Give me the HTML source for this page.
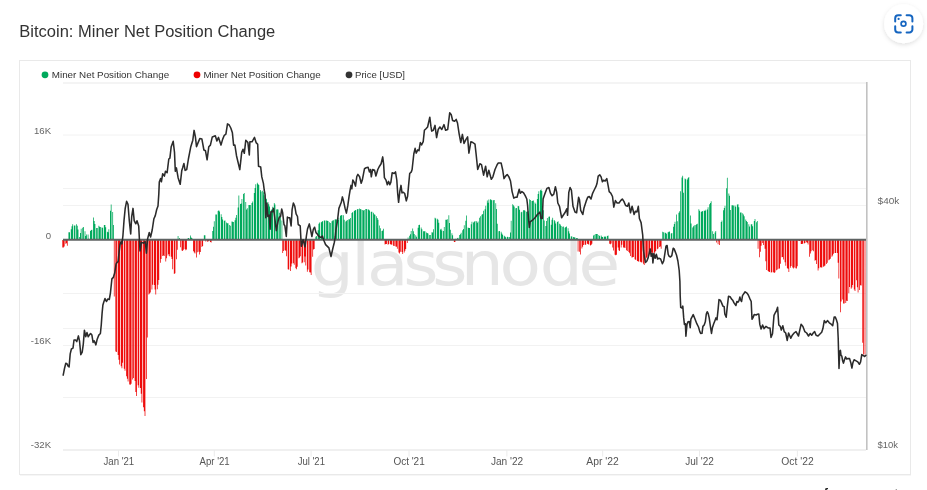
<!DOCTYPE html>
<html><head><meta charset="utf-8"><title>Bitcoin: Miner Net Position Change</title>
<style>html,body{margin:0;padding:0;background:#fff;width:927px;height:490px;overflow:hidden;position:relative}</style>
</head><body>
<svg width="927" height="490" viewBox="0 0 927 490" style="position:absolute;left:0;top:0;will-change:transform"><line x1="20" y1="475.5" x2="911" y2="475.5" stroke="#f6f6f6" stroke-width="1"/><rect x="19.5" y="60.5" width="891" height="414" fill="#fff" stroke="#e9e9e9" stroke-width="1"/><text x="19.3" y="36.7" font-family="Liberation Sans, Arial, sans-serif" font-size="16" fill="#333" textLength="256" lengthAdjust="spacingAndGlyphs">Bitcoin: Miner Net Position Change</text><defs><filter id="sh" x="-50%" y="-50%" width="200%" height="200%"><feDropShadow dx="0" dy="1.5" stdDeviation="2" flood-color="#000" flood-opacity="0.13"/></filter></defs><circle cx="903.6" cy="23.7" r="19.5" fill="#fff" filter="url(#sh)"/><g fill="none" stroke="#1565c0" stroke-width="2" stroke-linecap="round"><path d="M895.2 21.5V18.2a3 3 0 0 1 3-3h2.6"/><path d="M906.6 15.2h2.8a3 3 0 0 1 3 3v3.3"/><path d="M912.4 26.2v3.2a3 3 0 0 1-3 3h-2.8"/><path d="M900.8 32.4h-2.6a3 3 0 0 1-3-3v-3.2"/><circle cx="903.5" cy="23.8" r="2.4" stroke-width="1.7"/></g><circle cx="898.6" cy="18.9" r="1.1" fill="#1565c0"/><circle cx="45" cy="74.8" r="3.4" fill="#00a95c"/><text x="51.8" y="77.9" font-family="Liberation Sans, Arial, sans-serif" font-size="9.8" fill="#333" textLength="117.4" lengthAdjust="spacingAndGlyphs">Miner Net Position Change</text><circle cx="197" cy="74.8" r="3.4" fill="#ee0000"/><text x="203.4" y="77.9" font-family="Liberation Sans, Arial, sans-serif" font-size="9.8" fill="#333" textLength="117.3" lengthAdjust="spacingAndGlyphs">Miner Net Position Change</text><circle cx="349" cy="74.8" r="3.4" fill="#333"/><text x="355" y="77.9" font-family="Liberation Sans, Arial, sans-serif" font-size="9.8" fill="#333" textLength="50" lengthAdjust="spacingAndGlyphs">Price [USD]</text><text x="275.00 310.95 324.82 356.92 382.50 407.83 441.95 477.66 512.02" y="285.3" transform="scale(1.13,1)" font-family="DejaVu Sans, Liberation Sans, sans-serif" font-size="60" fill="#e6e6e6">glassnode</text><line x1="63" y1="83" x2="866" y2="83" stroke="#f4f4f4" stroke-width="2"/><line x1="63" y1="135" x2="866" y2="135" stroke="#f2f2f2" stroke-width="1"/><line x1="63" y1="188.5" x2="866" y2="188.5" stroke="#f2f2f2" stroke-width="1"/><line x1="63" y1="205.5" x2="866" y2="205.5" stroke="#f2f2f2" stroke-width="1"/><line x1="63" y1="293.5" x2="866" y2="293.5" stroke="#f2f2f2" stroke-width="1"/><line x1="63" y1="328.5" x2="866" y2="328.5" stroke="#f2f2f2" stroke-width="1"/><line x1="63" y1="345.5" x2="866" y2="345.5" stroke="#f2f2f2" stroke-width="1"/><line x1="63" y1="397.5" x2="866" y2="397.5" stroke="#f2f2f2" stroke-width="1"/><line x1="63" y1="450" x2="866" y2="450" stroke="#f0f0f0" stroke-width="1.8"/><line x1="118.5" y1="450" x2="118.5" y2="456.5" stroke="#ececec" stroke-width="1"/><text x="103.5" y="464.9" font-family="Liberation Sans, Arial, sans-serif" font-size="10" fill="#555" textLength="30.7" lengthAdjust="spacingAndGlyphs">Jan &#39;21</text><line x1="214.3" y1="450" x2="214.3" y2="456.5" stroke="#ececec" stroke-width="1"/><text x="199.5" y="464.9" font-family="Liberation Sans, Arial, sans-serif" font-size="10" fill="#555" textLength="30.2" lengthAdjust="spacingAndGlyphs">Apr &#39;21</text><line x1="311.1" y1="450" x2="311.1" y2="456.5" stroke="#ececec" stroke-width="1"/><text x="297.7" y="464.9" font-family="Liberation Sans, Arial, sans-serif" font-size="10" fill="#555" textLength="27.3" lengthAdjust="spacingAndGlyphs">Jul &#39;21</text><line x1="409.0" y1="450" x2="409.0" y2="456.5" stroke="#ececec" stroke-width="1"/><text x="393.4" y="464.9" font-family="Liberation Sans, Arial, sans-serif" font-size="10" fill="#555" textLength="31.3" lengthAdjust="spacingAndGlyphs">Oct &#39;21</text><line x1="506.9" y1="450" x2="506.9" y2="456.5" stroke="#ececec" stroke-width="1"/><text x="490.9" y="464.9" font-family="Liberation Sans, Arial, sans-serif" font-size="10" fill="#555" textLength="32.3" lengthAdjust="spacingAndGlyphs">Jan &#39;22</text><line x1="602.7" y1="450" x2="602.7" y2="456.5" stroke="#ececec" stroke-width="1"/><text x="586.3" y="464.9" font-family="Liberation Sans, Arial, sans-serif" font-size="10" fill="#555" textLength="32.4" lengthAdjust="spacingAndGlyphs">Apr &#39;22</text><line x1="699.5" y1="450" x2="699.5" y2="456.5" stroke="#ececec" stroke-width="1"/><text x="685.3" y="464.9" font-family="Liberation Sans, Arial, sans-serif" font-size="10" fill="#555" textLength="28.6" lengthAdjust="spacingAndGlyphs">Jul &#39;22</text><line x1="797.4" y1="450" x2="797.4" y2="456.5" stroke="#ececec" stroke-width="1"/><text x="781.3" y="464.9" font-family="Liberation Sans, Arial, sans-serif" font-size="10" fill="#555" textLength="32.4" lengthAdjust="spacingAndGlyphs">Oct &#39;22</text><text x="51.1" y="133.7" font-family="Liberation Sans, Arial, sans-serif" font-size="9.6" fill="#666" text-anchor="end">16K</text><text x="51.1" y="238.7" font-family="Liberation Sans, Arial, sans-serif" font-size="9.6" fill="#666" text-anchor="end">0</text><text x="51.1" y="344.2" font-family="Liberation Sans, Arial, sans-serif" font-size="9.6" fill="#666" text-anchor="end">-16K</text><text x="51.1" y="448.2" font-family="Liberation Sans, Arial, sans-serif" font-size="9.6" fill="#666" text-anchor="end">-32K</text><text x="877.6" y="204.0" font-family="Liberation Sans, Arial, sans-serif" font-size="9.6" fill="#666" textLength="21.6" lengthAdjust="spacingAndGlyphs">$40k</text><text x="877.6" y="448.2" font-family="Liberation Sans, Arial, sans-serif" font-size="9.6" fill="#666" textLength="20.5" lengthAdjust="spacingAndGlyphs">$10k</text><path d="M68.46 232.30h0.7692v7.70h-0.7692zM69.23 232.30h0.7692v7.70h-0.7692zM70.77 229.32h0.7692v10.68h-0.7692zM71.54 226.28h0.7692v13.72h-0.7692zM72.31 224.29h0.7692v15.71h-0.7692zM73.85 225.50h0.7692v14.50h-0.7692zM74.62 225.50h0.7692v14.50h-0.7692zM76.15 224.24h0.7692v15.76h-0.7692zM76.92 225.74h0.7692v14.26h-0.7692zM77.69 229.38h0.7692v10.62h-0.7692zM79.23 236.92h0.7692v3.08h-0.7692zM80.00 233.08h0.7692v6.92h-0.7692zM80.77 228.68h0.7692v11.32h-0.7692zM82.31 227.81h0.7692v12.19h-0.7692zM83.08 227.04h0.7692v12.96h-0.7692zM84.62 231.30h0.7692v8.70h-0.7692zM85.38 236.04h0.7692v3.96h-0.7692zM86.15 234.43h0.7692v5.57h-0.7692zM87.69 234.40h0.7692v5.60h-0.7692zM88.46 238.77h0.7692v1.23h-0.7692zM90.00 231.08h0.7692v8.92h-0.7692zM90.77 230.00h0.7692v10.00h-0.7692zM91.54 229.87h0.7692v10.13h-0.7692zM93.08 217.58h0.7692v22.42h-0.7692zM93.85 221.10h0.7692v18.90h-0.7692zM94.62 223.91h0.7692v16.09h-0.7692zM96.15 228.00h0.7692v12.00h-0.7692zM96.92 228.00h0.7692v12.00h-0.7692zM98.46 225.86h0.7692v14.14h-0.7692zM99.23 226.83h0.7692v13.17h-0.7692zM100.00 227.04h0.7692v12.96h-0.7692zM101.54 227.55h0.7692v12.45h-0.7692zM102.31 227.82h0.7692v12.18h-0.7692zM103.85 224.89h0.7692v15.11h-0.7692zM104.62 224.93h0.7692v15.07h-0.7692zM105.38 227.29h0.7692v12.71h-0.7692zM106.92 231.74h0.7692v8.26h-0.7692zM107.69 232.30h0.7692v7.70h-0.7692zM108.46 229.22h0.7692v10.78h-0.7692zM110.00 210.73h0.7692v29.27h-0.7692zM110.77 204.62h0.7692v35.38h-0.7692zM112.31 211.95h0.7692v28.05h-0.7692zM113.08 225.00h0.7692v15.00h-0.7692zM177.69 236.00h0.7692v4.00h-0.7692zM179.23 238.00h0.7692v2.00h-0.7692zM187.69 238.00h0.7692v2.00h-0.7692zM188.46 237.92h0.7692v2.08h-0.7692zM190.00 235.53h0.7692v4.47h-0.7692zM190.77 237.61h0.7692v2.39h-0.7692zM191.54 238.00h0.7692v2.00h-0.7692zM203.85 235.30h0.7692v4.70h-0.7692zM204.62 235.30h0.7692v4.70h-0.7692zM212.31 231.09h0.7692v8.91h-0.7692zM213.08 226.74h0.7692v13.26h-0.7692zM213.85 221.28h0.7692v18.72h-0.7692zM215.38 214.40h0.7692v25.60h-0.7692zM216.15 214.40h0.7692v25.60h-0.7692zM217.69 210.93h0.7692v29.07h-0.7692zM218.46 210.15h0.7692v29.85h-0.7692zM219.23 211.55h0.7692v28.45h-0.7692zM220.77 214.15h0.7692v25.85h-0.7692zM221.54 217.12h0.7692v22.88h-0.7692zM222.31 219.45h0.7692v20.55h-0.7692zM223.85 220.79h0.7692v19.21h-0.7692zM224.62 220.53h0.7692v19.47h-0.7692zM226.15 222.61h0.7692v17.39h-0.7692zM226.92 223.20h0.7692v16.80h-0.7692zM227.69 223.29h0.7692v16.71h-0.7692zM229.23 225.02h0.7692v14.98h-0.7692zM230.00 225.78h0.7692v14.22h-0.7692zM231.54 221.43h0.7692v18.57h-0.7692zM232.31 221.84h0.7692v18.16h-0.7692zM233.08 221.90h0.7692v18.10h-0.7692zM234.62 220.16h0.7692v19.84h-0.7692zM235.38 217.76h0.7692v22.24h-0.7692zM236.15 215.00h0.7692v25.00h-0.7692zM237.69 207.50h0.7692v32.50h-0.7692zM238.46 195.61h0.7692v44.39h-0.7692zM240.00 204.10h0.7692v35.90h-0.7692zM240.77 203.58h0.7692v36.42h-0.7692zM241.54 199.07h0.7692v40.93h-0.7692zM243.08 194.04h0.7692v45.96h-0.7692zM243.85 192.99h0.7692v47.01h-0.7692zM245.38 201.96h0.7692v38.04h-0.7692zM246.15 209.47h0.7692v30.53h-0.7692zM246.92 208.19h0.7692v31.81h-0.7692zM248.46 205.11h0.7692v34.89h-0.7692zM249.23 205.00h0.7692v35.00h-0.7692zM250.00 204.91h0.7692v35.09h-0.7692zM251.54 203.00h0.7692v37.00h-0.7692zM252.31 201.57h0.7692v38.43h-0.7692zM253.85 193.00h0.7692v47.00h-0.7692zM254.62 188.00h0.7692v52.00h-0.7692zM255.38 184.17h0.7692v55.83h-0.7692zM256.92 182.71h0.7692v57.29h-0.7692zM257.69 184.10h0.7692v55.90h-0.7692zM258.46 185.08h0.7692v54.92h-0.7692zM260.00 190.07h0.7692v49.93h-0.7692zM260.77 191.45h0.7692v48.55h-0.7692zM262.31 190.76h0.7692v49.24h-0.7692zM263.08 192.25h0.7692v47.75h-0.7692zM263.85 195.35h0.7692v44.65h-0.7692zM265.38 199.60h0.7692v40.40h-0.7692zM266.15 198.79h0.7692v41.21h-0.7692zM267.69 202.21h0.7692v37.79h-0.7692zM268.46 204.13h0.7692v35.87h-0.7692zM269.23 206.50h0.7692v33.50h-0.7692zM270.77 209.70h0.7692v30.30h-0.7692zM271.54 209.61h0.7692v30.39h-0.7692zM272.31 206.77h0.7692v33.23h-0.7692zM273.85 202.99h0.7692v37.01h-0.7692zM274.62 204.58h0.7692v35.42h-0.7692zM276.15 209.49h0.7692v30.51h-0.7692zM276.92 209.25h0.7692v30.75h-0.7692zM277.69 209.41h0.7692v30.59h-0.7692zM279.23 212.75h0.7692v27.25h-0.7692zM280.00 215.68h0.7692v24.32h-0.7692zM281.54 220.50h0.7692v19.50h-0.7692zM315.38 236.73h0.7692v3.27h-0.7692zM316.15 235.96h0.7692v4.04h-0.7692zM317.69 230.19h0.7692v9.81h-0.7692zM318.46 223.78h0.7692v16.22h-0.7692zM319.23 222.50h0.7692v17.50h-0.7692zM320.77 222.36h0.7692v17.64h-0.7692zM321.54 221.64h0.7692v18.36h-0.7692zM322.31 221.10h0.7692v18.90h-0.7692zM323.85 220.56h0.7692v19.44h-0.7692zM324.62 220.50h0.7692v19.50h-0.7692zM326.15 220.51h0.7692v19.49h-0.7692zM326.92 220.78h0.7692v19.22h-0.7692zM327.69 221.05h0.7692v18.95h-0.7692zM329.23 222.32h0.7692v17.68h-0.7692zM330.00 223.08h0.7692v16.92h-0.7692zM331.54 221.28h0.7692v18.72h-0.7692zM332.31 220.44h0.7692v19.56h-0.7692zM333.08 220.18h0.7692v19.82h-0.7692zM334.62 219.62h0.7692v20.38h-0.7692zM335.38 219.26h0.7692v20.74h-0.7692zM336.15 219.61h0.7692v20.39h-0.7692zM337.69 219.99h0.7692v20.01h-0.7692zM338.46 217.80h0.7692v22.20h-0.7692zM340.00 215.74h0.7692v24.26h-0.7692zM340.77 215.20h0.7692v24.80h-0.7692zM341.54 214.88h0.7692v25.12h-0.7692zM343.08 215.33h0.7692v24.67h-0.7692zM343.85 219.79h0.7692v20.21h-0.7692zM345.38 221.43h0.7692v18.57h-0.7692zM346.15 220.66h0.7692v19.34h-0.7692zM346.92 219.89h0.7692v20.11h-0.7692zM348.46 219.20h0.7692v20.80h-0.7692zM349.23 219.20h0.7692v20.80h-0.7692zM350.00 217.95h0.7692v22.05h-0.7692zM351.54 212.97h0.7692v27.03h-0.7692zM352.31 212.08h0.7692v27.92h-0.7692zM353.85 210.93h0.7692v29.07h-0.7692zM354.62 210.31h0.7692v29.69h-0.7692zM355.38 209.98h0.7692v30.02h-0.7692zM356.92 209.35h0.7692v30.65h-0.7692zM357.69 209.05h0.7692v30.95h-0.7692zM359.23 208.47h0.7692v31.53h-0.7692zM360.00 208.97h0.7692v31.03h-0.7692zM360.77 209.47h0.7692v30.53h-0.7692zM362.31 210.12h0.7692v29.88h-0.7692zM363.08 210.39h0.7692v29.61h-0.7692zM363.85 209.91h0.7692v30.09h-0.7692zM365.38 209.00h0.7692v31.00h-0.7692zM366.15 209.00h0.7692v31.00h-0.7692zM367.69 209.33h0.7692v30.67h-0.7692zM368.46 209.87h0.7692v30.13h-0.7692zM369.23 210.41h0.7692v29.59h-0.7692zM370.77 211.70h0.7692v28.30h-0.7692zM371.54 211.70h0.7692v28.30h-0.7692zM373.08 212.66h0.7692v27.34h-0.7692zM373.85 214.26h0.7692v25.74h-0.7692zM374.62 214.87h0.7692v25.13h-0.7692zM376.15 216.13h0.7692v23.87h-0.7692zM376.92 217.93h0.7692v22.07h-0.7692zM377.69 219.74h0.7692v20.26h-0.7692zM379.23 225.55h0.7692v14.45h-0.7692zM380.00 228.20h0.7692v11.80h-0.7692zM381.54 231.04h0.7692v8.96h-0.7692zM382.31 230.59h0.7692v9.41h-0.7692zM383.08 228.72h0.7692v11.28h-0.7692zM407.69 237.40h0.7692v2.60h-0.7692zM409.23 235.86h0.7692v4.14h-0.7692zM410.00 234.33h0.7692v5.67h-0.7692zM410.77 230.98h0.7692v9.02h-0.7692zM412.31 228.60h0.7692v11.40h-0.7692zM413.08 231.35h0.7692v8.65h-0.7692zM413.85 234.07h0.7692v5.93h-0.7692zM415.38 235.26h0.7692v4.74h-0.7692zM416.15 236.86h0.7692v3.14h-0.7692zM417.69 227.66h0.7692v12.34h-0.7692zM418.46 224.92h0.7692v15.08h-0.7692zM419.23 224.69h0.7692v15.31h-0.7692zM420.77 227.43h0.7692v12.57h-0.7692zM421.54 229.25h0.7692v10.75h-0.7692zM423.08 231.26h0.7692v8.74h-0.7692zM423.85 231.30h0.7692v8.70h-0.7692zM424.62 231.30h0.7692v8.70h-0.7692zM426.15 232.62h0.7692v7.38h-0.7692zM426.92 233.00h0.7692v7.00h-0.7692zM427.69 233.55h0.7692v6.45h-0.7692zM429.23 235.01h0.7692v4.99h-0.7692zM430.00 235.09h0.7692v4.91h-0.7692zM431.54 232.14h0.7692v7.86h-0.7692zM432.31 232.47h0.7692v7.53h-0.7692zM433.08 229.18h0.7692v10.82h-0.7692zM434.62 217.80h0.7692v22.20h-0.7692zM435.38 218.57h0.7692v21.43h-0.7692zM436.92 218.71h0.7692v21.29h-0.7692zM437.69 219.63h0.7692v20.37h-0.7692zM438.46 222.73h0.7692v17.27h-0.7692zM440.00 229.52h0.7692v10.48h-0.7692zM440.77 228.75h0.7692v11.25h-0.7692zM441.54 230.53h0.7692v9.47h-0.7692zM443.08 230.94h0.7692v9.06h-0.7692zM443.85 227.02h0.7692v12.98h-0.7692zM445.38 219.80h0.7692v20.20h-0.7692zM446.15 219.78h0.7692v20.22h-0.7692zM446.92 219.32h0.7692v20.68h-0.7692zM448.46 215.26h0.7692v24.74h-0.7692zM449.23 222.91h0.7692v17.09h-0.7692zM450.00 229.73h0.7692v10.27h-0.7692zM451.54 233.35h0.7692v6.65h-0.7692zM452.31 235.28h0.7692v4.72h-0.7692zM455.38 238.70h0.7692v1.30h-0.7692zM456.92 238.32h0.7692v1.68h-0.7692zM457.69 237.66h0.7692v2.34h-0.7692zM459.23 234.98h0.7692v5.02h-0.7692zM460.00 234.22h0.7692v5.78h-0.7692zM460.77 232.65h0.7692v7.35h-0.7692zM462.31 230.23h0.7692v9.77h-0.7692zM463.08 229.11h0.7692v10.89h-0.7692zM463.85 225.33h0.7692v14.67h-0.7692zM465.38 220.63h0.7692v19.37h-0.7692zM466.15 215.61h0.7692v24.39h-0.7692zM467.69 227.56h0.7692v12.44h-0.7692zM468.46 227.90h0.7692v12.10h-0.7692zM469.23 227.90h0.7692v12.10h-0.7692zM470.77 224.37h0.7692v15.63h-0.7692zM471.54 221.79h0.7692v18.21h-0.7692zM473.08 222.44h0.7692v17.56h-0.7692zM473.85 221.73h0.7692v18.27h-0.7692zM474.62 221.09h0.7692v18.91h-0.7692zM476.15 221.35h0.7692v18.65h-0.7692zM476.92 222.83h0.7692v17.17h-0.7692zM477.69 221.42h0.7692v18.58h-0.7692zM479.23 217.63h0.7692v22.37h-0.7692zM480.00 216.30h0.7692v23.70h-0.7692zM481.54 214.71h0.7692v25.29h-0.7692zM482.31 213.99h0.7692v26.01h-0.7692zM483.08 210.69h0.7692v29.31h-0.7692zM484.62 209.24h0.7692v30.76h-0.7692zM485.38 205.85h0.7692v34.15h-0.7692zM486.92 200.44h0.7692v39.56h-0.7692zM487.69 202.68h0.7692v37.32h-0.7692zM488.46 199.49h0.7692v40.51h-0.7692zM490.00 199.15h0.7692v40.85h-0.7692zM490.77 199.84h0.7692v40.16h-0.7692zM491.54 200.26h0.7692v39.74h-0.7692zM493.08 200.27h0.7692v39.73h-0.7692zM493.85 199.94h0.7692v40.06h-0.7692zM495.38 203.28h0.7692v36.72h-0.7692zM496.15 208.96h0.7692v31.04h-0.7692zM496.92 223.76h0.7692v16.24h-0.7692zM498.46 231.30h0.7692v8.70h-0.7692zM499.23 231.07h0.7692v8.93h-0.7692zM500.77 231.69h0.7692v8.31h-0.7692zM501.54 233.55h0.7692v6.45h-0.7692zM502.31 234.83h0.7692v5.17h-0.7692zM503.85 235.75h0.7692v4.25h-0.7692zM504.62 236.56h0.7692v3.44h-0.7692zM505.38 237.37h0.7692v2.63h-0.7692zM506.92 236.74h0.7692v3.26h-0.7692zM507.69 236.96h0.7692v3.04h-0.7692zM509.23 237.08h0.7692v2.92h-0.7692zM510.00 232.42h0.7692v7.58h-0.7692zM510.77 220.84h0.7692v19.16h-0.7692zM512.31 204.21h0.7692v35.79h-0.7692zM513.08 205.37h0.7692v34.63h-0.7692zM513.85 206.47h0.7692v33.53h-0.7692zM515.38 208.26h0.7692v31.74h-0.7692zM516.15 208.06h0.7692v31.94h-0.7692zM517.69 206.01h0.7692v33.99h-0.7692zM518.46 206.18h0.7692v33.82h-0.7692zM519.23 209.86h0.7692v30.14h-0.7692zM520.77 212.32h0.7692v27.68h-0.7692zM521.54 211.78h0.7692v28.22h-0.7692zM523.08 210.24h0.7692v29.76h-0.7692zM523.85 209.95h0.7692v30.05h-0.7692zM524.62 210.78h0.7692v29.22h-0.7692zM526.15 211.63h0.7692v28.37h-0.7692zM526.92 211.70h0.7692v28.30h-0.7692zM527.69 211.00h0.7692v29.00h-0.7692zM529.23 199.13h0.7692v40.87h-0.7692zM530.00 199.96h0.7692v40.04h-0.7692zM531.54 200.91h0.7692v39.09h-0.7692zM532.31 200.68h0.7692v39.32h-0.7692zM533.08 200.39h0.7692v39.61h-0.7692zM534.62 202.61h0.7692v37.39h-0.7692zM535.38 203.79h0.7692v36.21h-0.7692zM536.92 199.04h0.7692v40.96h-0.7692zM537.69 193.91h0.7692v46.09h-0.7692zM538.46 191.28h0.7692v48.72h-0.7692zM540.00 190.22h0.7692v49.78h-0.7692zM540.77 189.60h0.7692v50.40h-0.7692zM541.54 191.09h0.7692v48.91h-0.7692zM543.08 210.17h0.7692v29.83h-0.7692zM543.85 220.62h0.7692v19.38h-0.7692zM545.38 226.08h0.7692v13.92h-0.7692zM546.15 220.92h0.7692v19.08h-0.7692zM546.92 218.09h0.7692v21.91h-0.7692zM548.46 216.85h0.7692v23.15h-0.7692zM549.23 216.60h0.7692v23.40h-0.7692zM550.77 224.86h0.7692v15.14h-0.7692zM551.54 219.65h0.7692v20.35h-0.7692zM552.31 217.69h0.7692v22.31h-0.7692zM553.85 220.02h0.7692v19.98h-0.7692zM554.62 221.20h0.7692v18.80h-0.7692zM555.38 223.40h0.7692v16.60h-0.7692zM556.92 221.92h0.7692v18.08h-0.7692zM557.69 221.28h0.7692v18.72h-0.7692zM559.23 223.77h0.7692v16.23h-0.7692zM560.00 224.49h0.7692v15.51h-0.7692zM560.77 226.07h0.7692v13.93h-0.7692zM562.31 226.87h0.7692v13.13h-0.7692zM563.08 226.61h0.7692v13.39h-0.7692zM564.62 227.71h0.7692v12.29h-0.7692zM565.38 227.00h0.7692v13.00h-0.7692zM566.15 226.42h0.7692v13.58h-0.7692zM567.69 228.17h0.7692v11.83h-0.7692zM568.46 231.21h0.7692v8.79h-0.7692zM569.23 233.48h0.7692v6.52h-0.7692zM570.77 236.15h0.7692v3.85h-0.7692zM571.54 236.46h0.7692v3.54h-0.7692zM573.08 237.02h0.7692v2.98h-0.7692zM573.85 237.28h0.7692v2.72h-0.7692zM574.62 237.52h0.7692v2.48h-0.7692zM576.15 237.98h0.7692v2.02h-0.7692zM576.92 238.00h0.7692v2.00h-0.7692zM593.08 235.40h0.7692v4.60h-0.7692zM593.85 234.66h0.7692v5.34h-0.7692zM595.38 234.00h0.7692v6.00h-0.7692zM596.15 234.00h0.7692v6.00h-0.7692zM596.92 234.00h0.7692v6.00h-0.7692zM598.46 234.99h0.7692v5.01h-0.7692zM599.23 235.95h0.7692v4.05h-0.7692zM600.77 235.61h0.7692v4.39h-0.7692zM601.54 236.63h0.7692v3.37h-0.7692zM602.31 237.00h0.7692v3.00h-0.7692zM603.85 236.50h0.7692v3.50h-0.7692zM604.62 236.78h0.7692v3.22h-0.7692zM605.38 236.41h0.7692v3.59h-0.7692zM606.92 235.90h0.7692v4.10h-0.7692zM607.69 235.62h0.7692v4.38h-0.7692zM662.31 231.70h0.7692v8.30h-0.7692zM663.08 232.24h0.7692v7.76h-0.7692zM664.62 232.60h0.7692v7.40h-0.7692zM665.38 232.99h0.7692v7.01h-0.7692zM666.15 233.84h0.7692v6.16h-0.7692zM667.69 232.13h0.7692v7.87h-0.7692zM668.46 231.77h0.7692v8.23h-0.7692zM669.23 231.39h0.7692v8.61h-0.7692zM670.77 233.47h0.7692v6.53h-0.7692zM671.54 232.91h0.7692v7.09h-0.7692zM673.08 226.81h0.7692v13.19h-0.7692zM673.85 223.92h0.7692v16.08h-0.7692zM674.62 221.66h0.7692v18.34h-0.7692zM676.15 214.46h0.7692v25.54h-0.7692zM676.92 221.34h0.7692v18.66h-0.7692zM678.46 212.66h0.7692v27.34h-0.7692zM679.23 211.13h0.7692v28.87h-0.7692zM680.00 191.32h0.7692v48.68h-0.7692zM681.54 177.54h0.7692v62.46h-0.7692zM682.31 175.73h0.7692v64.27h-0.7692zM683.08 192.65h0.7692v47.35h-0.7692zM684.62 178.40h0.7692v61.60h-0.7692zM685.38 179.17h0.7692v60.83h-0.7692zM686.92 179.49h0.7692v60.51h-0.7692zM687.69 178.08h0.7692v61.92h-0.7692zM688.46 177.06h0.7692v62.94h-0.7692zM690.00 215.61h0.7692v24.39h-0.7692zM690.77 223.48h0.7692v16.52h-0.7692zM692.31 227.62h0.7692v12.38h-0.7692zM693.08 226.37h0.7692v13.63h-0.7692zM693.85 225.31h0.7692v14.69h-0.7692zM695.38 224.98h0.7692v15.02h-0.7692zM696.15 224.22h0.7692v15.78h-0.7692zM696.92 223.77h0.7692v16.23h-0.7692zM698.46 209.35h0.7692v30.65h-0.7692zM699.23 210.76h0.7692v29.24h-0.7692zM700.77 211.82h0.7692v28.18h-0.7692zM701.54 211.54h0.7692v28.46h-0.7692zM702.31 211.10h0.7692v28.90h-0.7692zM703.85 210.42h0.7692v29.58h-0.7692zM704.62 210.96h0.7692v29.04h-0.7692zM705.38 209.72h0.7692v30.28h-0.7692zM706.92 209.56h0.7692v30.44h-0.7692zM707.69 207.22h0.7692v32.78h-0.7692zM709.23 204.28h0.7692v35.72h-0.7692zM710.00 203.10h0.7692v36.90h-0.7692zM710.77 201.20h0.7692v38.80h-0.7692zM712.31 231.33h0.7692v8.67h-0.7692zM713.08 234.12h0.7692v5.88h-0.7692zM714.62 232.58h0.7692v7.42h-0.7692zM715.38 231.00h0.7692v9.00h-0.7692zM720.77 222.00h0.7692v18.00h-0.7692zM721.54 220.45h0.7692v19.55h-0.7692zM723.08 210.18h0.7692v29.82h-0.7692zM723.85 207.91h0.7692v32.09h-0.7692zM724.62 205.70h0.7692v34.30h-0.7692zM726.15 188.25h0.7692v51.75h-0.7692zM726.92 177.75h0.7692v62.25h-0.7692zM728.46 193.50h0.7692v46.50h-0.7692zM729.23 195.66h0.7692v44.34h-0.7692zM730.00 210.07h0.7692v29.93h-0.7692zM731.54 205.30h0.7692v34.70h-0.7692zM732.31 205.30h0.7692v34.70h-0.7692zM733.08 205.61h0.7692v34.39h-0.7692zM734.62 205.59h0.7692v34.41h-0.7692zM735.38 206.67h0.7692v33.33h-0.7692zM736.92 204.45h0.7692v35.55h-0.7692zM737.69 204.21h0.7692v35.79h-0.7692zM738.46 207.27h0.7692v32.73h-0.7692zM740.00 212.60h0.7692v27.40h-0.7692zM740.77 212.60h0.7692v27.40h-0.7692zM742.31 213.23h0.7692v26.77h-0.7692zM743.08 214.62h0.7692v25.38h-0.7692zM743.85 216.21h0.7692v23.79h-0.7692zM745.38 219.41h0.7692v20.59h-0.7692zM746.15 220.89h0.7692v19.11h-0.7692zM746.92 221.91h0.7692v18.09h-0.7692zM748.46 224.34h0.7692v15.66h-0.7692zM749.23 226.38h0.7692v13.62h-0.7692zM750.77 224.37h0.7692v15.63h-0.7692zM751.54 224.30h0.7692v15.70h-0.7692zM752.31 226.15h0.7692v13.85h-0.7692zM753.85 221.12h0.7692v18.88h-0.7692zM754.62 219.09h0.7692v20.91h-0.7692zM756.15 222.21h0.7692v17.79h-0.7692zM756.92 221.00h0.7692v19.00h-0.7692z" fill="#00a95c"/><path d="M62.31 240.00h0.7692v7.50h-0.7692zM63.08 240.00h0.7692v7.50h-0.7692zM63.85 240.00h0.7692v6.40h-0.7692zM65.38 240.00h0.7692v3.73h-0.7692zM66.15 240.00h0.7692v3.13h-0.7692zM66.92 240.00h0.7692v5.83h-0.7692zM113.85 240.00h0.7692v56.50h-0.7692zM115.38 240.00h0.7692v111.53h-0.7692zM116.15 240.00h0.7692v111.88h-0.7692zM117.69 240.00h0.7692v114.91h-0.7692zM118.46 240.00h0.7692v119.70h-0.7692zM119.23 240.00h0.7692v124.45h-0.7692zM120.77 240.00h0.7692v126.26h-0.7692zM121.54 240.00h0.7692v128.21h-0.7692zM122.31 240.00h0.7692v122.75h-0.7692zM123.85 240.00h0.7692v128.82h-0.7692zM124.62 240.00h0.7692v130.74h-0.7692zM126.15 240.00h0.7692v136.16h-0.7692zM126.92 240.00h0.7692v138.63h-0.7692zM127.69 240.00h0.7692v141.44h-0.7692zM129.23 240.00h0.7692v144.57h-0.7692zM130.00 240.00h0.7692v144.87h-0.7692zM130.77 240.00h0.7692v143.72h-0.7692zM132.31 240.00h0.7692v139.50h-0.7692zM133.08 240.00h0.7692v137.91h-0.7692zM134.62 240.00h0.7692v140.95h-0.7692zM135.38 240.00h0.7692v152.12h-0.7692zM136.15 240.00h0.7692v156.05h-0.7692zM137.69 240.00h0.7692v145.17h-0.7692zM138.46 240.00h0.7692v147.78h-0.7692zM140.00 240.00h0.7692v148.10h-0.7692zM140.77 240.00h0.7692v153.67h-0.7692zM141.54 240.00h0.7692v162.57h-0.7692zM143.08 240.00h0.7692v167.19h-0.7692zM143.85 240.00h0.7692v171.21h-0.7692zM144.62 240.00h0.7692v175.98h-0.7692zM146.15 240.00h0.7692v139.09h-0.7692zM146.92 240.00h0.7692v97.49h-0.7692zM148.46 240.00h0.7692v54.61h-0.7692zM149.23 240.00h0.7692v53.45h-0.7692zM150.00 240.00h0.7692v52.62h-0.7692zM151.54 240.00h0.7692v49.44h-0.7692zM152.31 240.00h0.7692v44.76h-0.7692zM153.85 240.00h0.7692v44.90h-0.7692zM154.62 240.00h0.7692v49.57h-0.7692zM155.38 240.00h0.7692v54.54h-0.7692zM156.92 240.00h0.7692v49.37h-0.7692zM157.69 240.00h0.7692v44.77h-0.7692zM158.46 240.00h0.7692v40.01h-0.7692zM160.00 240.00h0.7692v22.70h-0.7692zM160.77 240.00h0.7692v19.05h-0.7692zM162.31 240.00h0.7692v15.92h-0.7692zM163.08 240.00h0.7692v15.53h-0.7692zM163.85 240.00h0.7692v16.06h-0.7692zM165.38 240.00h0.7692v21.50h-0.7692zM166.15 240.00h0.7692v18.36h-0.7692zM167.69 240.00h0.7692v15.55h-0.7692zM168.46 240.00h0.7692v14.01h-0.7692zM169.23 240.00h0.7692v16.16h-0.7692zM170.77 240.00h0.7692v16.74h-0.7692zM171.54 240.00h0.7692v18.98h-0.7692zM172.31 240.00h0.7692v29.17h-0.7692zM173.85 240.00h0.7692v34.07h-0.7692zM174.62 240.00h0.7692v33.30h-0.7692zM176.15 240.00h0.7692v19.13h-0.7692zM176.92 240.00h0.7692v9.80h-0.7692zM180.00 240.00h0.7692v7.30h-0.7692zM181.54 240.00h0.7692v10.61h-0.7692zM182.31 240.00h0.7692v10.92h-0.7692zM183.08 240.00h0.7692v9.85h-0.7692zM184.62 240.00h0.7692v9.05h-0.7692zM185.38 240.00h0.7692v10.20h-0.7692zM186.15 240.00h0.7692v9.44h-0.7692zM193.08 240.00h0.7692v11.19h-0.7692zM193.85 240.00h0.7692v12.56h-0.7692zM194.62 240.00h0.7692v13.39h-0.7692zM196.15 240.00h0.7692v17.44h-0.7692zM196.92 240.00h0.7692v12.29h-0.7692zM198.46 240.00h0.7692v11.64h-0.7692zM199.23 240.00h0.7692v14.40h-0.7692zM200.00 240.00h0.7692v12.12h-0.7692zM201.54 240.00h0.7692v6.95h-0.7692zM202.31 240.00h0.7692v6.10h-0.7692zM205.38 240.00h0.7692v1.40h-0.7692zM206.92 240.00h0.7692v1.68h-0.7692zM207.69 240.00h0.7692v1.24h-0.7692zM208.46 240.00h0.7692v1.19h-0.7692zM210.00 240.00h0.7692v2.01h-0.7692zM210.77 240.00h0.7692v2.42h-0.7692zM282.31 240.00h0.7692v13.12h-0.7692zM283.08 240.00h0.7692v11.12h-0.7692zM284.62 240.00h0.7692v10.37h-0.7692zM285.38 240.00h0.7692v10.72h-0.7692zM286.15 240.00h0.7692v16.14h-0.7692zM287.69 240.00h0.7692v29.31h-0.7692zM288.46 240.00h0.7692v29.78h-0.7692zM290.00 240.00h0.7692v30.98h-0.7692zM290.77 240.00h0.7692v26.61h-0.7692zM291.54 240.00h0.7692v23.42h-0.7692zM293.08 240.00h0.7692v23.32h-0.7692zM293.85 240.00h0.7692v24.81h-0.7692zM295.38 240.00h0.7692v28.14h-0.7692zM296.15 240.00h0.7692v29.21h-0.7692zM296.92 240.00h0.7692v26.71h-0.7692zM298.46 240.00h0.7692v18.22h-0.7692zM299.23 240.00h0.7692v17.57h-0.7692zM300.00 240.00h0.7692v16.21h-0.7692zM301.54 240.00h0.7692v23.15h-0.7692zM302.31 240.00h0.7692v22.55h-0.7692zM303.85 240.00h0.7692v22.24h-0.7692zM304.62 240.00h0.7692v16.60h-0.7692zM305.38 240.00h0.7692v25.39h-0.7692zM306.92 240.00h0.7692v31.69h-0.7692zM307.69 240.00h0.7692v29.49h-0.7692zM309.23 240.00h0.7692v32.18h-0.7692zM310.00 240.00h0.7692v32.38h-0.7692zM310.77 240.00h0.7692v35.04h-0.7692zM312.31 240.00h0.7692v16.76h-0.7692zM313.08 240.00h0.7692v9.42h-0.7692zM313.85 240.00h0.7692v9.10h-0.7692zM384.62 240.00h0.7692v4.40h-0.7692zM385.38 240.00h0.7692v4.08h-0.7692zM386.15 240.00h0.7692v4.06h-0.7692zM387.69 240.00h0.7692v4.72h-0.7692zM388.46 240.00h0.7692v4.10h-0.7692zM390.00 240.00h0.7692v4.19h-0.7692zM390.77 240.00h0.7692v4.43h-0.7692zM391.54 240.00h0.7692v4.75h-0.7692zM393.08 240.00h0.7692v5.75h-0.7692zM393.85 240.00h0.7692v5.97h-0.7692zM395.38 240.00h0.7692v6.49h-0.7692zM396.15 240.00h0.7692v6.78h-0.7692zM396.92 240.00h0.7692v8.86h-0.7692zM398.46 240.00h0.7692v12.41h-0.7692zM399.23 240.00h0.7692v13.53h-0.7692zM400.00 240.00h0.7692v11.78h-0.7692zM401.54 240.00h0.7692v12.05h-0.7692zM402.31 240.00h0.7692v13.90h-0.7692zM403.85 240.00h0.7692v12.42h-0.7692zM404.62 240.00h0.7692v10.80h-0.7692zM405.38 240.00h0.7692v8.93h-0.7692zM406.92 240.00h0.7692v2.94h-0.7692zM453.85 240.00h0.7692v2.00h-0.7692zM454.62 240.00h0.7692v2.00h-0.7692zM577.69 240.00h0.7692v11.60h-0.7692zM579.23 240.00h0.7692v11.73h-0.7692zM580.00 240.00h0.7692v14.57h-0.7692zM581.54 240.00h0.7692v8.58h-0.7692zM582.31 240.00h0.7692v6.74h-0.7692zM583.08 240.00h0.7692v4.89h-0.7692zM584.62 240.00h0.7692v4.80h-0.7692zM585.38 240.00h0.7692v4.80h-0.7692zM586.92 240.00h0.7692v3.69h-0.7692zM587.69 240.00h0.7692v4.04h-0.7692zM588.46 240.00h0.7692v4.75h-0.7692zM590.00 240.00h0.7692v5.41h-0.7692zM590.77 240.00h0.7692v5.02h-0.7692zM591.54 240.00h0.7692v3.83h-0.7692zM609.23 240.00h0.7692v3.64h-0.7692zM610.00 240.00h0.7692v4.13h-0.7692zM610.77 240.00h0.7692v3.60h-0.7692zM612.31 240.00h0.7692v7.59h-0.7692zM613.08 240.00h0.7692v10.57h-0.7692zM614.62 240.00h0.7692v14.80h-0.7692zM615.38 240.00h0.7692v15.29h-0.7692zM616.15 240.00h0.7692v14.68h-0.7692zM617.69 240.00h0.7692v7.54h-0.7692zM618.46 240.00h0.7692v10.32h-0.7692zM619.23 240.00h0.7692v11.01h-0.7692zM620.77 240.00h0.7692v7.56h-0.7692zM621.54 240.00h0.7692v4.84h-0.7692zM623.08 240.00h0.7692v7.50h-0.7692zM623.85 240.00h0.7692v7.50h-0.7692zM624.62 240.00h0.7692v8.10h-0.7692zM626.15 240.00h0.7692v10.14h-0.7692zM626.92 240.00h0.7692v10.91h-0.7692zM628.46 240.00h0.7692v11.90h-0.7692zM629.23 240.00h0.7692v13.28h-0.7692zM630.00 240.00h0.7692v15.92h-0.7692zM631.54 240.00h0.7692v17.56h-0.7692zM632.31 240.00h0.7692v17.30h-0.7692zM633.08 240.00h0.7692v17.09h-0.7692zM634.62 240.00h0.7692v19.28h-0.7692zM635.38 240.00h0.7692v19.99h-0.7692zM636.92 240.00h0.7692v20.95h-0.7692zM637.69 240.00h0.7692v21.34h-0.7692zM638.46 240.00h0.7692v21.70h-0.7692zM640.00 240.00h0.7692v21.84h-0.7692zM640.77 240.00h0.7692v22.23h-0.7692zM641.54 240.00h0.7692v22.40h-0.7692zM643.08 240.00h0.7692v23.68h-0.7692zM643.85 240.00h0.7692v24.99h-0.7692zM645.38 240.00h0.7692v19.67h-0.7692zM646.15 240.00h0.7692v17.85h-0.7692zM646.92 240.00h0.7692v16.78h-0.7692zM648.46 240.00h0.7692v15.38h-0.7692zM649.23 240.00h0.7692v14.28h-0.7692zM650.77 240.00h0.7692v12.77h-0.7692zM651.54 240.00h0.7692v12.39h-0.7692zM652.31 240.00h0.7692v13.04h-0.7692zM653.85 240.00h0.7692v13.74h-0.7692zM654.62 240.00h0.7692v12.20h-0.7692zM655.38 240.00h0.7692v11.02h-0.7692zM656.92 240.00h0.7692v9.26h-0.7692zM657.69 240.00h0.7692v8.49h-0.7692zM659.23 240.00h0.7692v6.88h-0.7692zM660.00 240.00h0.7692v6.44h-0.7692zM660.77 240.00h0.7692v8.64h-0.7692zM716.15 240.00h0.7692v2.45h-0.7692zM717.69 240.00h0.7692v4.37h-0.7692zM718.46 240.00h0.7692v1.23h-0.7692zM719.23 240.00h0.7692v5.02h-0.7692zM757.69 240.00h0.7692v8.80h-0.7692zM759.23 240.00h0.7692v17.31h-0.7692zM760.00 240.00h0.7692v11.65h-0.7692zM760.77 240.00h0.7692v5.70h-0.7692zM762.31 240.00h0.7692v2.93h-0.7692zM763.08 240.00h0.7692v5.06h-0.7692zM764.62 240.00h0.7692v8.82h-0.7692zM765.38 240.00h0.7692v21.21h-0.7692zM766.15 240.00h0.7692v29.88h-0.7692zM767.69 240.00h0.7692v30.94h-0.7692zM768.46 240.00h0.7692v31.65h-0.7692zM769.23 240.00h0.7692v32.09h-0.7692zM770.77 240.00h0.7692v32.40h-0.7692zM771.54 240.00h0.7692v32.23h-0.7692zM773.08 240.00h0.7692v32.26h-0.7692zM773.85 240.00h0.7692v33.03h-0.7692zM774.62 240.00h0.7692v32.35h-0.7692zM776.15 240.00h0.7692v30.36h-0.7692zM776.92 240.00h0.7692v29.53h-0.7692zM778.46 240.00h0.7692v28.77h-0.7692zM779.23 240.00h0.7692v28.44h-0.7692zM780.00 240.00h0.7692v23.77h-0.7692zM781.54 240.00h0.7692v17.36h-0.7692zM782.31 240.00h0.7692v17.12h-0.7692zM783.08 240.00h0.7692v19.55h-0.7692zM784.62 240.00h0.7692v22.16h-0.7692zM785.38 240.00h0.7692v25.75h-0.7692zM786.92 240.00h0.7692v28.16h-0.7692zM787.69 240.00h0.7692v28.86h-0.7692zM788.46 240.00h0.7692v32.08h-0.7692zM790.00 240.00h0.7692v27.78h-0.7692zM790.77 240.00h0.7692v25.99h-0.7692zM792.31 240.00h0.7692v27.55h-0.7692zM793.08 240.00h0.7692v28.60h-0.7692zM793.85 240.00h0.7692v27.41h-0.7692zM795.38 240.00h0.7692v28.37h-0.7692zM796.15 240.00h0.7692v28.40h-0.7692zM796.92 240.00h0.7692v26.13h-0.7692zM798.46 240.00h0.7692v1.00h-0.7692zM799.23 240.00h0.7692v1.00h-0.7692zM800.77 240.00h0.7692v4.10h-0.7692zM801.54 240.00h0.7692v4.09h-0.7692zM802.31 240.00h0.7692v3.70h-0.7692zM803.85 240.00h0.7692v3.40h-0.7692zM804.62 240.00h0.7692v3.00h-0.7692zM806.15 240.00h0.7692v2.29h-0.7692zM806.92 240.00h0.7692v2.72h-0.7692zM807.69 240.00h0.7692v4.49h-0.7692zM809.23 240.00h0.7692v16.85h-0.7692zM810.00 240.00h0.7692v13.55h-0.7692zM810.77 240.00h0.7692v11.26h-0.7692zM812.31 240.00h0.7692v10.14h-0.7692zM813.08 240.00h0.7692v11.28h-0.7692zM814.62 240.00h0.7692v20.70h-0.7692zM815.38 240.00h0.7692v19.93h-0.7692zM816.15 240.00h0.7692v23.92h-0.7692zM817.69 240.00h0.7692v30.47h-0.7692zM818.46 240.00h0.7692v28.35h-0.7692zM820.00 240.00h0.7692v27.14h-0.7692zM820.77 240.00h0.7692v27.53h-0.7692zM821.54 240.00h0.7692v27.47h-0.7692zM823.08 240.00h0.7692v26.67h-0.7692zM823.85 240.00h0.7692v26.27h-0.7692zM824.62 240.00h0.7692v25.50h-0.7692zM826.15 240.00h0.7692v23.96h-0.7692zM826.92 240.00h0.7692v22.78h-0.7692zM828.46 240.00h0.7692v20.35h-0.7692zM829.23 240.00h0.7692v19.58h-0.7692zM830.00 240.00h0.7692v18.76h-0.7692zM831.54 240.00h0.7692v16.74h-0.7692zM832.31 240.00h0.7692v15.39h-0.7692zM833.08 240.00h0.7692v13.79h-0.7692zM834.62 240.00h0.7692v12.90h-0.7692zM835.38 240.00h0.7692v12.90h-0.7692zM836.92 240.00h0.7692v12.90h-0.7692zM837.69 240.00h0.7692v22.75h-0.7692zM838.46 240.00h0.7692v38.62h-0.7692zM840.00 240.00h0.7692v72.36h-0.7692zM840.77 240.00h0.7692v61.39h-0.7692zM842.31 240.00h0.7692v59.42h-0.7692zM843.08 240.00h0.7692v63.60h-0.7692zM843.85 240.00h0.7692v63.60h-0.7692zM845.38 240.00h0.7692v62.99h-0.7692zM846.15 240.00h0.7692v60.75h-0.7692zM846.92 240.00h0.7692v61.00h-0.7692zM848.46 240.00h0.7692v53.35h-0.7692zM849.23 240.00h0.7692v47.00h-0.7692zM850.77 240.00h0.7692v48.85h-0.7692zM851.54 240.00h0.7692v47.44h-0.7692zM852.31 240.00h0.7692v45.11h-0.7692zM853.85 240.00h0.7692v49.43h-0.7692zM854.62 240.00h0.7692v50.91h-0.7692zM856.15 240.00h0.7692v40.15h-0.7692zM856.92 240.00h0.7692v47.18h-0.7692zM857.69 240.00h0.7692v52.60h-0.7692zM859.23 240.00h0.7692v50.02h-0.7692zM860.00 240.00h0.7692v45.24h-0.7692zM860.77 240.00h0.7692v45.56h-0.7692zM862.31 240.00h0.7692v102.85h-0.7692zM863.08 240.00h0.7692v114.50h-0.7692zM864.62 240.00h0.7692v114.50h-0.7692z" fill="#ee0c0c"/><line x1="63" y1="239.7" x2="866" y2="239.7" stroke="#5e6262" stroke-width="1.9"/><line x1="866.8" y1="82" x2="866.8" y2="450" stroke="#c2c2c2" stroke-width="1.6"/><path d="M63.2 375.1 L64.5 368.5 L65.8 363.3 L67.0 363.7 L68.1 366.1 L69.1 366.9 L70.2 353.9 L71.4 349.0 L73.0 348.1 L74.0 340.0 L75.6 340.0 L76.8 341.6 L78.4 335.9 L79.5 340.8 L80.8 354.7 L82.2 352.2 L83.3 344.1 L84.4 330.2 L85.7 336.7 L87.0 332.6 L88.2 336.7 L89.3 335.1 L90.6 333.5 L91.9 335.1 L93.1 342.4 L94.2 340.8 L95.9 344.9 L97.2 339.2 L98.8 335.1 L100.4 333.5 L101.3 324.5 L102.1 313.1 L102.9 304.9 L103.8 302.0 L105.0 298.5 L106.4 301.5 L107.9 299.0 L109.3 299.5 L110.4 293.1 L111.9 278.9 L113.3 277.4 L114.7 273.1 L116.1 263.9 L117.1 262.4 L118.1 261.7 L119.0 253.1 L120.0 244.6 L121.0 241.7 L121.9 243.9 L122.9 236.0 L124.0 220.7 L125.2 208.4 L126.6 201.3 L128.0 204.3 L129.3 220.7 L130.7 234.0 L131.7 216.6 L133.0 208.4 L134.2 220.7 L135.8 223.8 L137.0 220.7 L138.7 225.9 L140.0 251.0 L141.4 242.4 L143.6 243.1 L145.3 241.7 L146.4 253.1 L147.6 238.9 L149.2 232.6 L150.6 237.0 L152.2 230.0 L153.9 218.7 L155.3 215.6 L156.7 209.5 L158.0 206.0 L158.8 194.1 L159.3 182.0 L160.6 178.5 L161.4 181.8 L162.7 173.7 L164.4 176.1 L165.5 171.2 L167.1 172.8 L168.8 159.0 L169.9 158.1 L171.2 146.7 L173.2 141.3 L174.5 152.4 L175.3 171.2 L176.4 167.9 L178.1 177.7 L180.2 184.3 L181.8 170.4 L182.6 167.9 L183.9 163.5 L185.1 170.4 L186.7 169.6 L188.4 159.0 L190.8 146.7 L192.8 140.2 L194.1 130.4 L195.4 136.9 L196.5 146.7 L198.1 142.6 L199.8 138.6 L201.9 139.1 L203.9 150.0 L205.5 150.8 L207.1 159.8 L208.8 146.7 L210.4 145.1 L212.3 136.9 L215.3 135.8 L216.9 141.0 L218.5 137.4 L221.0 145.1 L222.6 139.4 L224.3 135.3 L225.9 134.2 L227.5 123.9 L229.2 125.0 L230.8 128.0 L232.4 132.8 L233.6 145.1 L234.9 145.1 L236.5 155.7 L239.8 169.6 L241.7 152.4 L243.0 149.2 L244.3 153.3 L245.8 140.2 L247.9 142.6 L249.3 154.9 L249.9 141.8 L252.0 141.8 L254.5 137.4 L256.1 142.6 L257.7 144.3 L258.5 166.3 L260.7 167.1 L261.8 176.9 L263.4 183.4 L264.2 190.0 L265.1 194.9 L265.8 217.8 L266.9 203.0 L267.8 216.5 L269.2 215.1 L270.1 229.3 L270.9 211.7 L272.5 211.7 L273.5 208.4 L274.6 216.5 L276.3 230.6 L277.9 221.8 L279.3 217.1 L280.6 216.5 L281.7 209.0 L282.6 212.4 L284.0 224.5 L284.9 225.9 L286.3 236.5 L287.4 217.1 L288.4 217.8 L289.8 217.8 L291.1 225.9 L292.1 209.7 L293.4 203.0 L294.8 206.3 L296.1 213.8 L297.5 216.5 L298.2 224.5 L300.2 225.9 L301.3 246.3 L303.1 239.8 L305.0 246.8 L306.4 236.0 L307.5 229.0 L309.3 223.9 L310.6 230.0 L311.9 236.5 L313.3 229.3 L314.6 227.2 L316.0 232.6 L317.3 234.0 L318.6 236.0 L320.0 237.0 L321.1 237.5 L322.4 236.0 L323.8 240.3 L325.6 244.6 L328.9 247.9 L331.0 256.5 L332.7 249.0 L334.3 242.5 L335.3 236.5 L335.9 230.0 L337.5 220.5 L338.9 208.4 L340.2 205.0 L341.3 202.3 L342.4 196.9 L343.7 201.6 L345.1 208.4 L346.4 213.1 L347.8 205.7 L349.1 196.2 L350.1 190.2 L351.0 185.4 L351.8 188.8 L352.8 180.0 L354.1 182.1 L355.5 186.1 L356.8 176.5 L357.9 174.4 L359.6 176.8 L361.2 183.3 L362.3 180.1 L364.5 168.7 L366.1 167.8 L368.1 167.3 L369.4 171.9 L370.5 169.5 L371.3 176.8 L372.6 169.5 L374.6 170.3 L375.9 176.0 L377.8 169.5 L379.5 166.2 L381.1 163.8 L382.7 156.9 L383.6 163.8 L384.4 177.6 L386.0 180.1 L387.3 184.8 L388.5 181.4 L389.8 184.8 L390.9 182.1 L392.2 172.7 L394.2 173.5 L395.5 171.9 L396.8 180.0 L397.7 193.5 L398.6 202.3 L399.9 190.8 L401.0 185.4 L402.0 192.9 L403.3 192.2 L404.7 193.5 L406.3 200.9 L407.6 196.2 L408.7 184.1 L409.7 173.5 L411.3 171.9 L412.1 169.5 L413.8 154.0 L415.1 148.3 L416.2 153.1 L417.8 149.9 L419.0 150.7 L420.3 142.5 L421.6 145.0 L423.2 141.7 L424.4 130.3 L426.0 128.7 L427.6 127.0 L429.8 117.2 L430.9 126.2 L431.7 131.1 L433.3 130.3 L435.0 125.4 L436.6 137.6 L438.2 129.5 L439.9 127.0 L441.8 129.5 L444.0 124.6 L445.6 130.3 L447.7 129.5 L449.7 112.8 L451.3 114.8 L452.6 120.5 L454.6 121.3 L456.2 119.4 L457.5 123.0 L459.1 133.6 L460.8 142.5 L462.4 134.4 L464.0 143.4 L466.0 139.3 L467.6 136.8 L468.9 153.1 L470.9 141.7 L472.8 142.5 L475.0 144.2 L476.1 154.0 L477.7 169.5 L479.9 163.8 L481.5 164.6 L483.6 175.2 L485.6 166.2 L487.2 176.8 L488.8 170.3 L491.3 179.3 L492.9 176.8 L495.0 169.5 L497.0 165.0 L498.3 162.9 L501.1 162.9 L502.7 170.0 L504.0 178.6 L505.6 176.1 L507.2 174.5 L508.9 176.9 L510.5 181.0 L512.1 191.6 L513.8 198.1 L515.4 197.3 L517.0 197.3 L519.2 189.2 L520.3 193.3 L521.9 191.6 L523.6 192.8 L525.2 195.7 L526.8 199.0 L527.6 205.5 L528.5 218.5 L529.3 227.5 L530.1 221.8 L532.5 220.2 L535.0 217.7 L537.4 214.5 L539.9 212.0 L541.0 218.5 L542.3 218.5 L543.1 199.0 L544.8 194.1 L546.9 188.4 L548.9 187.5 L550.5 193.3 L552.1 195.7 L553.8 194.1 L555.4 186.7 L556.7 192.4 L557.8 203.0 L559.5 206.3 L561.6 217.7 L563.2 215.3 L564.9 212.8 L566.8 208.8 L567.6 215.3 L568.8 192.4 L570.1 187.5 L571.4 190.0 L573.0 206.3 L575.0 212.0 L576.6 212.8 L578.6 197.3 L579.5 199.8 L580.7 210.4 L582.8 214.5 L584.0 207.9 L586.1 201.4 L587.7 197.3 L589.3 196.5 L591.0 199.0 L592.6 193.3 L594.2 190.0 L595.9 186.7 L597.0 183.5 L598.2 176.1 L599.8 174.8 L601.1 176.9 L602.4 181.8 L603.5 180.2 L605.2 181.0 L606.8 178.6 L607.9 184.3 L609.2 191.6 L610.9 193.3 L612.5 196.5 L613.8 207.1 L615.4 200.6 L617.1 203.0 L619.0 203.0 L620.7 200.6 L622.3 199.0 L623.9 201.4 L625.6 205.5 L627.5 206.3 L628.8 203.0 L630.5 212.8 L632.1 206.3 L634.1 214.5 L635.4 211.2 L637.0 212.0 L638.3 206.3 L639.4 218.5 L641.1 222.6 L642.7 235.0 L643.5 250.2 L644.4 257.0 L645.5 262.4 L646.9 261.0 L648.2 257.6 L649.3 252.9 L650.2 248.9 L651.2 256.3 L652.3 253.6 L652.9 263.0 L653.9 253.6 L655.2 258.3 L656.3 254.3 L657.6 259.0 L659.0 258.3 L660.6 259.0 L662.4 263.7 L663.7 261.0 L665.1 252.2 L666.0 246.2 L667.1 245.5 L668.2 254.3 L669.1 256.3 L670.5 257.0 L671.8 255.6 L673.2 248.2 L674.1 248.9 L675.2 251.6 L676.5 255.0 L677.9 261.0 L679.2 270.5 L679.9 281.2 L680.2 295.7 L680.7 307.4 L682.0 308.1 L682.8 306.1 L683.7 317.9 L684.4 324.4 L685.4 323.7 L685.9 336.2 L687.0 324.4 L688.0 321.8 L689.3 321.5 L690.2 327.7 L690.9 319.2 L692.2 316.6 L693.2 314.6 L694.8 318.5 L696.8 323.7 L698.5 327.0 L699.8 331.6 L700.7 333.5 L702.0 333.3 L702.9 326.4 L704.2 325.0 L705.3 321.8 L706.3 314.0 L707.2 311.7 L708.1 313.3 L709.2 317.9 L710.5 327.0 L711.5 333.5 L712.4 327.7 L713.7 323.7 L715.0 320.5 L716.0 317.9 L717.0 319.8 L718.1 309.4 L719.0 299.6 L720.3 300.2 L721.6 302.9 L722.9 306.1 L724.2 306.8 L724.8 314.0 L726.2 317.2 L727.2 307.4 L728.5 296.3 L730.1 296.7 L731.4 298.9 L732.7 300.2 L734.0 302.9 L735.9 305.5 L736.9 301.5 L737.9 302.2 L738.9 300.9 L739.9 297.0 L740.5 299.6 L741.6 301.5 L742.5 295.7 L743.8 293.7 L745.1 291.8 L747.0 293.1 L748.3 295.0 L749.7 298.3 L751.2 301.5 L752.0 319.2 L752.9 317.9 L754.2 314.6 L756.2 315.0 L757.5 314.2 L758.8 314.0 L759.8 324.4 L761.1 329.0 L762.6 325.0 L764.1 328.6 L765.9 326.4 L768.1 327.9 L770.0 327.9 L771.0 337.5 L772.5 333.8 L774.0 315.4 L775.4 312.5 L776.4 311.0 L777.6 307.3 L778.8 325.0 L780.3 326.4 L781.3 330.1 L782.8 325.7 L784.2 331.6 L785.7 333.0 L787.2 340.4 L788.6 333.0 L790.8 338.2 L792.3 335.2 L794.1 333.0 L796.0 331.6 L798.5 336.0 L801.1 324.2 L802.9 326.4 L804.8 331.6 L806.7 333.0 L808.5 336.0 L810.2 333.5 L811.7 335.2 L813.2 333.0 L814.6 331.6 L816.1 335.2 L818.0 336.0 L820.2 333.8 L821.7 332.3 L822.9 328.6 L824.3 320.6 L825.8 322.8 L827.6 320.6 L829.3 322.8 L831.2 324.2 L832.7 325.7 L834.2 316.9 L835.2 316.9 L836.4 319.8 L837.5 323.5 L838.2 338.2 L839.0 368.4 L839.8 351.2 L840.4 350.4 L841.0 355.3 L841.8 356.1 L842.7 361.0 L843.5 363.1 L844.3 360.2 L845.5 356.9 L846.7 359.0 L848.0 358.6 L849.6 358.6 L850.8 362.7 L851.9 368.0 L852.9 362.7 L854.1 359.8 L855.7 360.6 L857.8 361.8 L859.4 364.3 L860.6 361.8 L861.8 354.5 L862.7 355.3 L863.6 355.7 L864.7 356.5 L865.9 355.3" fill="none" stroke="#2b2b2b" stroke-width="1.55" stroke-linejoin="round" stroke-linecap="round"/><text x="824" y="497" font-family="Liberation Sans, Arial, sans-serif" font-size="12" font-weight="bold" fill="#222">f</text><text x="894.2" y="497.6" font-family="Liberation Sans, Arial, sans-serif" font-size="12" font-weight="bold" fill="#222">t</text></svg>
</body></html>
